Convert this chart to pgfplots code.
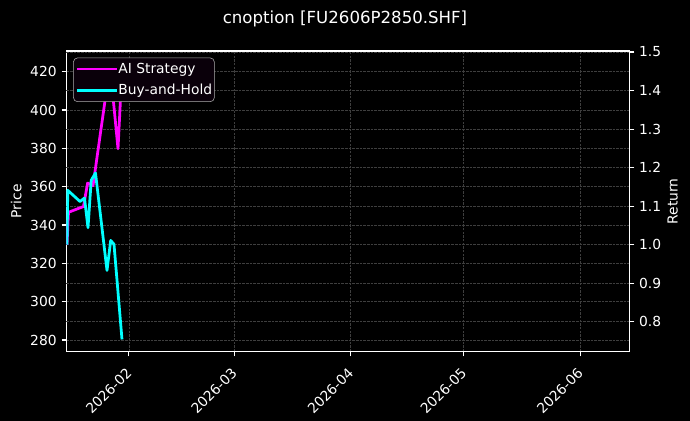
\documentclass[border=0pt]{standalone}
\usepackage{fontspec}
\setmainfont{DejaVu Sans}
\usepackage{pgfplots}
\pgfplotsset{compat=1.18}

\definecolor{aimag}{RGB}{255,0,255}
\definecolor{bhcyan}{RGB}{0,255,255}
\definecolor{gridgray}{RGB}{62,62,62}
\definecolor{legedge}{RGB}{204,204,204}

\pgfplotsset{
  darkbase/.style={
    at={(47.8bp,50.04bp)}, anchor=south west,
    scale only axis, width=405.36bp, height=216.36bp,
    xmin=14.37, xmax=164.12,
    tick align=outside, major tick length=3.5bp,
    tick style={white, line width=0.8pt},
    axis line style={white, line width=0.8pt},
    ticklabel style={white, font=\fontsize{10}{12}\selectfont},
    label style={white, font=\fontsize{10}{12}\selectfont},
    grid style={gridgray, line width=0.5pt, dash pattern=on 1.85pt off 0.8pt},
    /pgf/number format/assume math mode=true,
  },
  mpl legend line/.style={
    legend image code/.code={
      \draw[##1] (0bp,0bp) -- (21.6bp,0bp);
      \path (0bp,0bp) -- (28.8bp,0bp);
    }
  },
}

\begin{document}
\begin{tikzpicture}
\fill[black] (0,0) rectangle (496.8bp,303.12bp);

% price axis (left) with the date axis
\begin{axis}[
  darkbase,
  ymin=274.0, ymax=430.8,
  xtick={31,59,90,120,151},
  xticklabels={2026-02,2026-03,2026-04,2026-05,2026-06},
  ytick={280,300,320,340,360,380,400,420},
  xtick pos=bottom, ytick pos=left,
  xmajorgrids, ymajorgrids,
  xticklabel style={rotate=45, anchor=north east, xshift=-3.6bp},
  ylabel={Price},
  ylabel style={at={(axis description cs:-0.0893,0.5)}, anchor=center},
]
\end{axis}

% return axis (right)
\begin{axis}[
  darkbase,
  ymin=0.7227, ymax=1.5026,
  axis x line=none, axis y line*=right,
  ytick={0.8,0.9,1.0,1.1,1.2,1.3,1.4,1.5},
  yticklabel style={/pgf/number format/.cd, fixed, fixed zerofill, precision=1},
  ymajorgrids,
  ylabel={Return},
  ylabel style={at={(axis description cs:1.0767,0.5)}, anchor=center},
]
\addplot[aimag, line width=2pt, line join=round] coordinates {
  (14.53,1.000) (14.93,1.084) (18.92,1.099) (20.02,1.160)
  (21.45,1.153) (25.97,1.465) (28.10,1.249) (29.16,1.455)
};
\addplot[bhcyan, line width=2pt, line join=round] coordinates {
  (14.53,1.000) (14.74,1.141) (17.99,1.112) (19.18,1.121)
  (20.12,1.044) (20.97,1.167) (22.11,1.186) (25.17,0.933)
  (26.16,1.011) (27.03,1.001) (29.16,0.754)
};
\end{axis}

% legend on top of both series
\begin{axis}[
  darkbase,
  ymin=0.7227, ymax=1.5026,
  hide axis,
  mpl legend line,
  legend cell align=left,
  legend style={
    at={(axis description cs:0.012,0.978)}, anchor=north west,
    fill={rgb,255:red,10;green,0;blue,10},
    draw=legedge!85!black, text=white, rounded corners=3bp,
    font=\fontsize{10}{12}\selectfont,
    nodes={inner sep=0bp},
    inner xsep=1.6bp, inner ysep=3.6bp, row sep=6.4bp,
  },
]
\addlegendimage{aimag, line width=2pt}
\addlegendentry{AI Strategy}
\addlegendimage{bhcyan, line width=2pt}
\addlegendentry{Buy-and-Hold\hspace{6bp}}
\end{axis}

\node[white, font=\fontsize{12}{14}\selectfont] at (248.4bp,289.4bp) {cnoption [FU2606P2850.SHF]};

\pgfresetboundingbox
\useasboundingbox (0,0) rectangle (496.8bp,303.12bp);
\end{tikzpicture}
\end{document}
